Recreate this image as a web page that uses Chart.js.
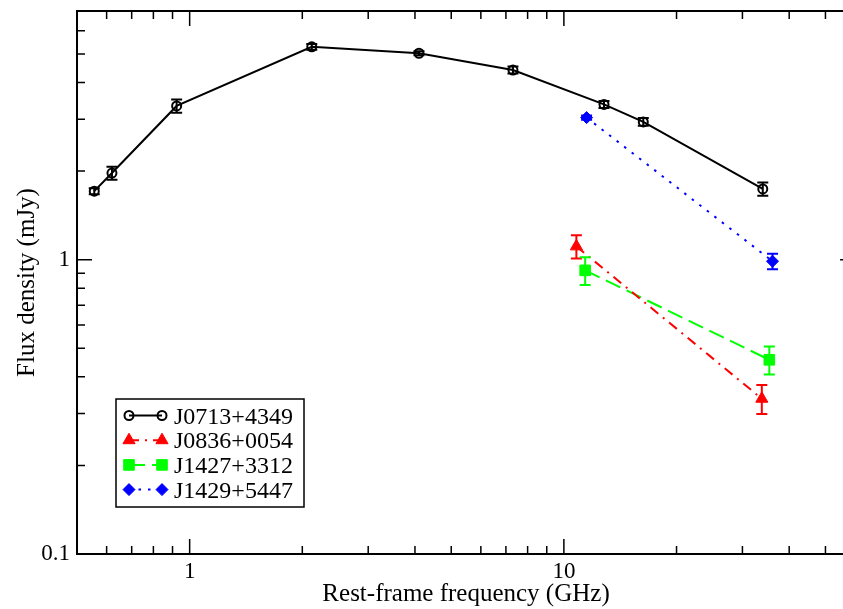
<!DOCTYPE html>
<html>
<head>
<meta charset="utf-8">
<script src="https://cdn.jsdelivr.net/npm/chart.js@4.4.1/dist/chart.umd.min.js"></script>
<style>
  html, body { margin: 0; padding: 0; overflow: hidden; background: #fff; }
  canvas { display: block; }
</style>
</head>
<body>
<canvas id="sed" width="843" height="609"></canvas>
<script>
// --- data (GHz, mJy) ---
const j0713Freq = [0.556, 0.620, 0.923, 2.12, 4.10, 7.31, 12.8, 16.3, 34.0];
const j0713Flux = [1.71, 1.97, 3.33, 5.29, 5.03, 4.41, 3.37, 2.94, 1.74];
const j0713Err  = [0.04, 0.10, 0.17, 0.12, 0.08, 0.12, 0.09, 0.09, 0.09];

const j0836Freq = [10.8, 33.8];
const j0836Flux = [1.11, 0.337];
const j0836Err  = [0.10, 0.038];

const j1427Freq = [11.4, 35.4];
const j1427Flux = [0.92, 0.457];
const j1427Err  = [0.10, 0.05];

const j1429Freq = [11.5, 36.1];
const j1429Flux = [3.04, 0.988];
const j1429Err  = [0.05, 0.06];

const seriesNames = ['J0713+4349', 'J0836+0054', 'J1427+3312', 'J1429+5447'];

// axis ticks (the frame really ends at 60 GHz, just past the right edge of the picture)
const xFrameMax = 60;
const xMajorTicks = [1, 10];
const xMinorTicks = [0.6, 0.7, 0.8, 0.9, 2, 3, 4, 5, 6, 7, 8, 9, 20, 30, 40, 50];
const yMajorTicks = [0.1, 1];
const yMinorTicks = [0.2, 0.3, 0.4, 0.5, 0.6, 0.7, 0.8, 0.9, 2, 3, 4, 5, 6];

const SERIF = '"Liberation Serif", "DejaVu Serif", serif';

function toPoints(xs, ys) {
    return xs.map((x, i) => ({ x: x, y: ys[i] }));
}

function makeSet(name, xs, ys, errs, color, style, radius, dash, fill) {
    return {
        label: name,
        data: toPoints(xs, ys),
        errors: errs,
        showLine: true,
        borderColor: color,
        borderWidth: 2,
        borderDash: dash,
        pointStyle: style,
        pointRadius: radius,
        pointHoverRadius: radius,
        pointBorderWidth: fill ? 1 : 2,
        pointBorderColor: color,
        pointBackgroundColor: fill ? color : 'rgba(0,0,0,0)',
        tension: 0
    };
}

// legend markers: use the library's own point drawing
function drawMarker(ctx, ds, x, y) {
    ctx.save();
    ctx.setLineDash([]);
    ctx.strokeStyle = ds.pointBorderColor;
    ctx.fillStyle = ds.pointBackgroundColor;
    ctx.lineWidth = ds.pointBorderWidth;
    Chart.helpers.drawPoint(ctx, {
        pointStyle: ds.pointStyle,
        radius: ds.pointRadius,
        rotation: 0,
        borderWidth: ds.pointBorderWidth
    }, x, y);
    ctx.restore();
}

// error bars, frame with inward ticks, boxed legend, x title
const gracePlugin = {
    id: 'grace',
    afterDatasetsDraw(chart) {
        const ctx = chart.ctx;
        const xs = chart.scales.x, ys = chart.scales.y;
        ctx.save();
        ctx.setLineDash([]);
        chart.data.datasets.forEach(ds => {
            ctx.strokeStyle = ds.borderColor;
            ctx.lineWidth = 2;
            ds.data.forEach((p, i) => {
                const e = ds.errors[i];
                const px = xs.getPixelForValue(p.x);
                const top = ys.getPixelForValue(p.y + e);
                const bot = ys.getPixelForValue(p.y - e);
                ctx.beginPath();
                ctx.moveTo(px, top); ctx.lineTo(px, bot);
                ctx.moveTo(px - 5.5, top); ctx.lineTo(px + 5.5, top);
                ctx.moveTo(px - 5.5, bot); ctx.lineTo(px + 5.5, bot);
                ctx.stroke();
            });
        });
        ctx.restore();
    },
    afterDraw(chart) {
        const ctx = chart.ctx;
        const a = chart.chartArea;
        const xs = chart.scales.x, ys = chart.scales.y;
        const left = a.left;
        const right = xs.getPixelForValue(xFrameMax);
        ctx.save();
        ctx.strokeStyle = '#000';
        ctx.lineWidth = 1.5;
        ctx.beginPath();
        const tick = (vals, len) => {
            vals.forEach(v => {
                const px = xs.getPixelForValue(v);
                ctx.moveTo(px, a.bottom); ctx.lineTo(px, a.bottom - len);
                ctx.moveTo(px, a.top); ctx.lineTo(px, a.top + len);
            });
        };
        const ytick = (vals, len) => {
            vals.forEach(v => {
                const py = ys.getPixelForValue(v);
                ctx.moveTo(left, py); ctx.lineTo(left + len, py);
                ctx.moveTo(right, py); ctx.lineTo(right - len, py);
            });
        };
        tick(xMajorTicks, 15);
        tick(xMinorTicks, 8);
        ytick(yMajorTicks, 15);
        ytick(yMinorTicks, 8);
        ctx.stroke();

        ctx.lineWidth = 2;
        ctx.strokeRect(left, a.top, right - left, a.bottom - a.top);

        // x axis title, centred on the full frame
        ctx.fillStyle = '#000';
        ctx.font = '25px ' + SERIF;
        ctx.textAlign = 'center';
        ctx.textBaseline = 'middle';
        ctx.fillText('Rest-frame frequency (GHz)', (left + right) / 2, 594);

        // legend box
        const bx = 116, by = 399, bw = 188, bh = 108;
        ctx.fillStyle = '#fff';
        ctx.fillRect(bx, by, bw, bh);
        ctx.lineWidth = 1.5;
        ctx.strokeRect(bx, by, bw, bh);
        ctx.font = '24px ' + SERIF;
        ctx.textAlign = 'left';
        ctx.textBaseline = 'alphabetic';
        chart.data.datasets.forEach((ds, i) => {
            const y = 415.5 + i * 24.7;
            ctx.strokeStyle = ds.borderColor;
            ctx.lineWidth = 2;
            ctx.setLineDash(ds.borderDash || []);
            ctx.beginPath();
            ctx.moveTo(129, y); ctx.lineTo(162, y);
            ctx.stroke();
            drawMarker(ctx, ds, 129, y);
            drawMarker(ctx, ds, 162, y);
            ctx.fillStyle = '#000';
            ctx.fillText(ds.label, 174, y + 8);
        });
        ctx.restore();
    }
};

const datasets = [
    makeSet(seriesNames[0], j0713Freq, j0713Flux, j0713Err, '#000000', 'circle', 4.5, [], false),
    makeSet(seriesNames[1], j0836Freq, j0836Flux, j0836Err, '#ff0000', 'triangle', 7, [10, 6, 2, 6], true),
    makeSet(seriesNames[2], j1427Freq, j1427Flux, j1427Err, '#00ff00', 'rect', 7.5, [16, 7], true),
    makeSet(seriesNames[3], j1429Freq, j1429Flux, j1429Err, '#0000ff', 'rectRot', 6, [2.5, 7], true)
];

new Chart(document.getElementById('sed'), {
    type: 'scatter',
    data: { datasets: datasets },
    plugins: [gracePlugin],
    options: {
        responsive: false,
        animation: false,
        layout: { autoPadding: false, padding: { top: 11, left: 0, right: 0, bottom: 0 } },
        plugins: {
            legend: { display: false },
            tooltip: { enabled: false }
        },
        scales: {
            x: {
                type: 'logarithmic',
                min: 0.5,
                max: 55.7,
                grid: { display: false, drawTicks: false },
                border: { display: false },
                afterBuildTicks: s => { s.ticks = xMajorTicks.map(v => ({ value: v })); },
                afterFit: s => { s.height = 55; s.paddingLeft = 0; s.paddingRight = 0; },
                ticks: {
                    autoSkip: false,
                    maxRotation: 0,
                    padding: 4,
                    color: '#000',
                    font: { family: SERIF, size: 23 },
                    callback: v => String(v)
                },
                title: { display: false }
            },
            y: {
                type: 'logarithmic',
                min: 0.1,
                max: 7,
                grid: { display: false, drawTicks: false },
                border: { display: false },
                afterBuildTicks: s => { s.ticks = yMajorTicks.map(v => ({ value: v })); },
                afterFit: s => { s.width = 77; s.paddingTop = 0; s.paddingBottom = 0; },
                ticks: {
                    autoSkip: false,
                    padding: 7,
                    color: '#000',
                    font: { family: SERIF, size: 23 },
                    callback: v => String(v)
                },
                title: {
                    display: true,
                    text: 'Flux density (mJy)',
                    color: '#000',
                    font: { family: SERIF, size: 25 },
                    padding: { top: 12, bottom: 0 }
                }
            }
        }
    }
});
</script>
</body>
</html>
